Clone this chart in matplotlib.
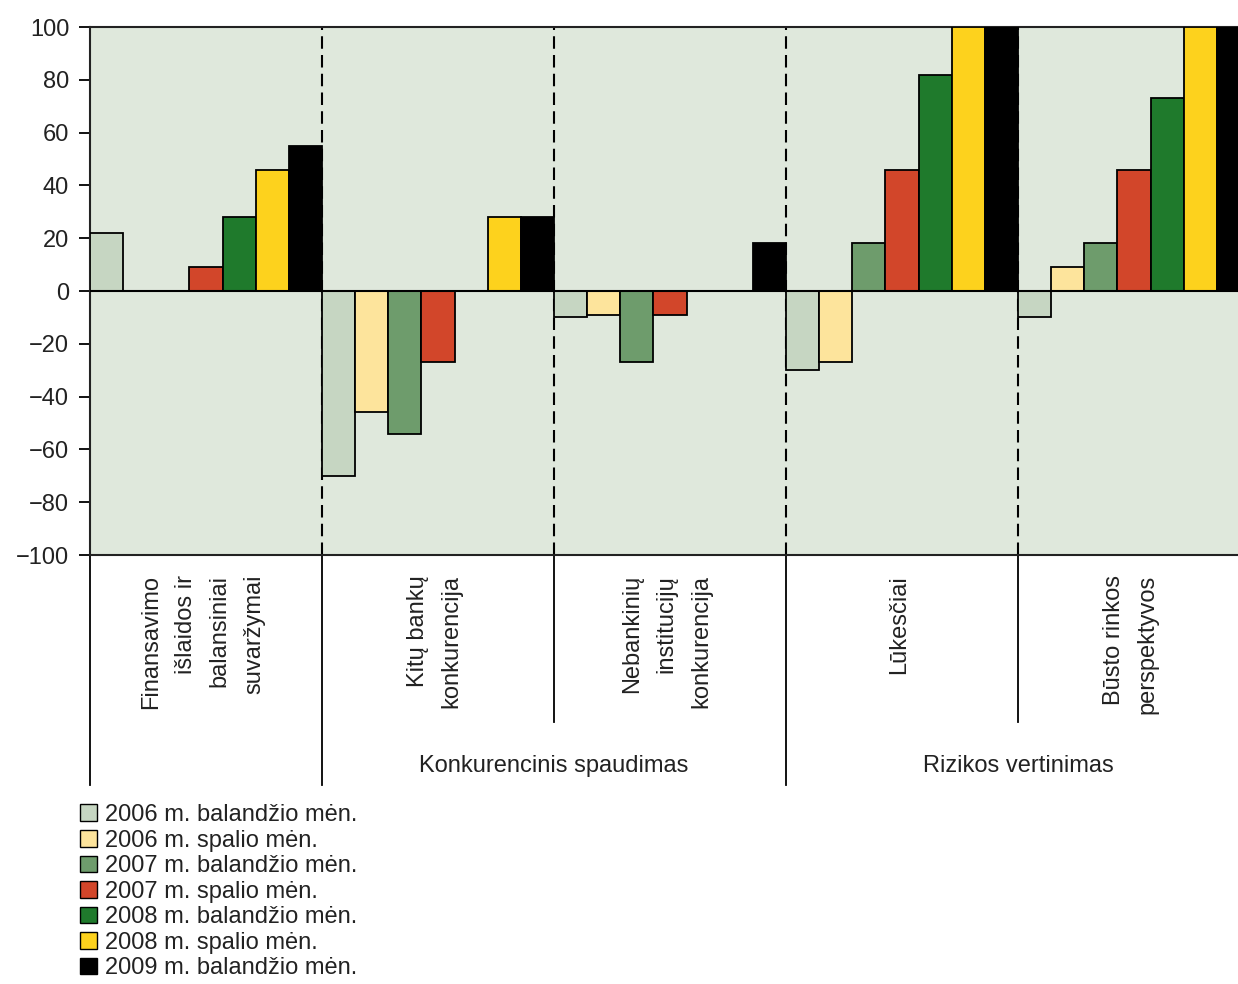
import matplotlib
matplotlib.use("Agg")
import matplotlib.pyplot as plt
from matplotlib import font_manager
from matplotlib.patches import Patch
import numpy as np

names = {f.name for f in font_manager.fontManager.ttflist}
plt.rcParams['font.family'] = ['Liberation Sans', 'DejaVu Sans'] if 'Liberation Sans' in names else ['DejaVu Sans']

categories = [
    "Finansavimo\nišlaidos ir\nbalansiniai\nsuvaržymai",
    "Kitų bankų\nkonkurencija",
    "Nebankinių\ninstitucijų\nkonkurencija",
    "Lūkesčiai",
    "Būsto rinkos\nperspektyvos",
]
series_labels = [
    "2006 m. balandžio mėn.",
    "2006 m. spalio mėn.",
    "2007 m. balandžio mėn.",
    "2007 m. spalio mėn.",
    "2008 m. balandžio mėn.",
    "2008 m. spalio mėn.",
    "2009 m. balandžio mėn.",
]
s2006_04 = [22, -70, -10, -30, -10]
s2006_10 = [0, -46, -9, -27, 9]
s2007_04 = [0, -54, -27, 18, 18]
s2007_10 = [9, -27, -9, 46, 46]
s2008_04 = [28, 0, 0, 82, 73]
s2008_10 = [46, 28, 0, 100, 100]
s2009_04 = [55, 28, 18, 100, 100]
series = [s2006_04, s2006_10, s2007_04, s2007_10, s2008_04, s2008_10, s2009_04]
colors = ["#c6d6c2", "#fde49c", "#6e9c6c", "#d2462a", "#1f7a2c", "#fdd21d", "#000000"]
group_titles = ["Konkurencinis spaudimas", "Rizikos vertinimas"]
yticks = [-100, -80, -60, -40, -20, 0, 20, 40, 60, 80, 100]

W, H = 1238, 984
fig = plt.figure(figsize=(W / 100, H / 100), dpi=100)
ax = fig.add_axes([90 / W, 1 - 555 / H, (1250 - 90) / W, (555 - 27) / H])
ax.set_facecolor("#dfe8dc")

n_s = len(series)
n_g = len(categories)
for i, vals in enumerate(series):
    xs = np.arange(n_g) * n_s + i + 0.5
    ax.bar(xs, vals, width=1.0, color=colors[i], edgecolor="black", linewidth=1.3,
           zorder=3, label=series_labels[i])

ax.set_xlim(0, n_s * n_g)
ax.set_ylim(-100, 100)
ax.set_yticks(yticks)
ax.set_yticklabels([str(t).replace("-", "\u2212") for t in yticks], fontsize=17, color="#222222")
ax.tick_params(axis="y", direction="out", length=8, width=1.3, pad=7)
ax.set_xticks([])
for s in ["left", "bottom", "top"]:
    ax.spines[s].set_linewidth(1.5)
    ax.spines[s].set_color("#222222")
ax.spines["right"].set_visible(False)

ax.axhline(0, color="black", lw=1.5, zorder=4)
for b in range(1, n_g):
    ax.axvline(b * n_s, color="black", lw=1.5, ls=(0, (6, 3)), zorder=2)

trans = ax.get_xaxis_transform()
long_bottom = (555 - 785) / 528
short_bottom = (555 - 722) / 528
for b, yb in zip([0, 7, 14, 21, 28], [long_bottom, long_bottom, short_bottom, long_bottom, short_bottom]):
    ax.plot([b, b], [0, yb], transform=trans, color="black", lw=1.3, clip_on=False)

label_top = (555 - 575) / 528
for g, lab in enumerate(categories):
    ax.text(g * n_s + n_s / 2 - 0.1, label_top, lab, transform=trans, rotation=90,
            ha="center", va="top", multialignment="right", fontsize=17,
            linespacing=1.72, color="#222222")

title_y = (555 - 766) / 528
ax.text(14, title_y, group_titles[0], transform=trans, ha="center", va="center",
        fontsize=17, color="#222222")
ax.text(28, title_y, group_titles[1], transform=trans, ha="center", va="center",
        fontsize=17, color="#222222")

handles = [Patch(facecolor=colors[i], edgecolor="black", linewidth=1.0) for i in range(n_s)]
fig.legend(handles, series_labels, loc="upper left", bbox_to_anchor=(80 / W, 1 - 804 / H),
           frameon=False, fontsize=17, handlelength=0.7, handleheight=0.7,
           handletextpad=0.35, labelspacing=0.15, borderpad=0, borderaxespad=0,
           labelcolor="#222222")

fig.savefig("out.png", dpi=100)
